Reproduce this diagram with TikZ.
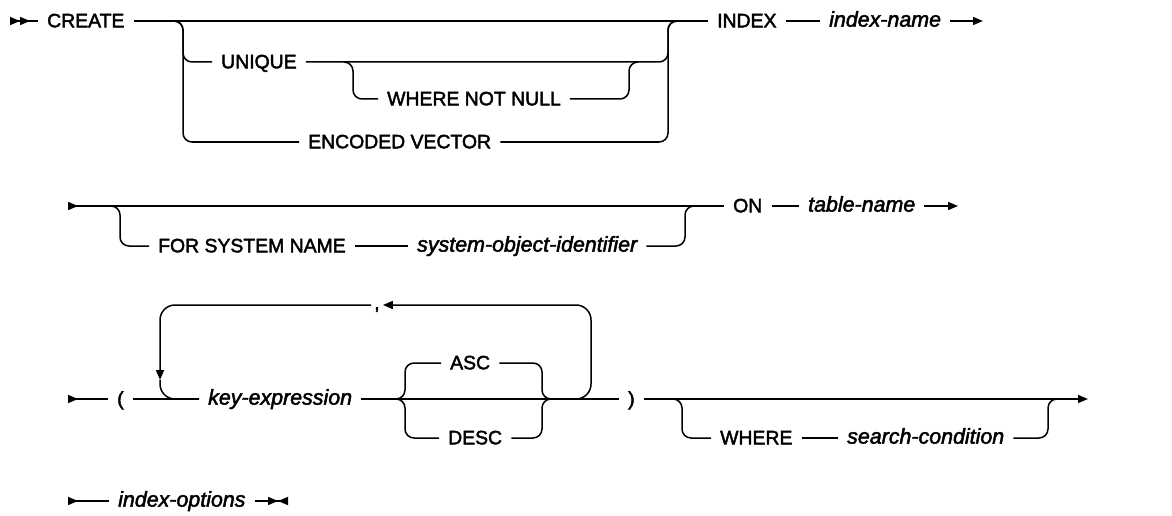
\documentclass[tikz,border=0pt]{standalone}
\usepackage{fontspec}
\usepackage{tikz}
\usetikzlibrary{arrows.meta, positioning}
\newfontfamily\railfont{Liberation Sans}[FakeBold=2.2]
\newcommand{\kwfont}{\railfont\fontsize{19.4pt}{21pt}\selectfont}
\newcommand{\varfont}{\railfont\itshape\fontsize{21.4pt}{23pt}\selectfont}
\tikzset{
	railtip/.tip={Triangle[length=10pt,width=8pt,sep=0pt]},
	railback/.tip={Triangle[length=10pt,width=8pt,sep=0pt,reversed]},
	rail/.style={line width=1.5pt, rounded corners=9pt},
	railloop/.style={rail, rounded corners=15pt},
	kw/.style={font=\kwfont, anchor=west, inner xsep=9pt, inner ysep=0pt, text height=12.6pt, text depth=0pt},
	var/.style={kw, font=\varfont, text height=11.2pt},
}

\begin{document}
\begin{tikzpicture}[x=1pt, y=-1pt]
	\useasboundingbox (0,0) rectangle (1172,516);

	\coordinate (s1) at (10,21);
	\node[kw] (create) at (38,21) {CREATE\hspace{9pt}};
	\coordinate (bA) at (174,21);
	\coordinate (colA) at (183,21);
	\node[kw] (unique) at (212,62) {UNIQUE\hspace{2pt}};
	\coordinate (bC) at (344,62);
	\coordinate (colC) at (353,62);
	\node[kw] (wnn) at (378,99) {WHERE NOT NULL\hspace{20pt}};
	\coordinate (colD) at (629,62);
	\coordinate (jD) at (638,62);
	\node[kw] (encoded) at (299,142) {ENCODED VECTOR\hspace{20pt}};
	\coordinate (colB) at (668,21);
	\coordinate (jB) at (677,21);
	\node[kw] (index) at (708,21) {INDEX\hspace{2pt}};
	\node[var] (idxname) at (820,21) {index-name\hspace{3pt}};
	\coordinate (e1) at (983,21);

	\draw[rail, {railback[]railback[]}-] (s1) -- (create.west);
	\draw[rail] (create.east) -- (index.west);
	\draw[rail] (bA) -- (colA) |- (unique.west);
	\draw[rail] (bA) -- (colA) |- (encoded.west);
	\draw[rail] (unique.east) -| (colB) -- (jB);
	\draw[rail] (encoded.east) -| (colB) -- (jB);
	\draw[rail] (bC) -- (colC) |- (wnn.west);
	\draw[rail] (wnn.east) -| (colD) -- (jD);
	\draw[rail] (index) -- (idxname);
	\draw[rail, -{railtip[]}] (idxname.east) -- (e1);

	\coordinate (s2) at (68,206);
	\coordinate (bE) at (111,206);
	\coordinate (colE) at (120,206);
	\node[kw] (sysname) at (149,246) {FOR SYSTEM NAME\hspace{20pt}};
	\node[var] (sysid) at (408,246) {system-object-identifier\hspace{6pt}};
	\coordinate (colF) at (685,206);
	\coordinate (jF) at (694,206);
	\node[kw] (on) at (724,206) {ON};
	\node[var] (tblname) at (799,206) {table-name\hspace{2pt}};
	\coordinate (e2) at (958,206);

	\draw[rail, {railback[]}-] (s2) -- (on.west);
	\draw[rail] (bE) -- (colE) |- (sysname.west);
	\draw[rail] (sysname) -- (sysid);
	\draw[rail] (sysid.east) -| (colF) -- (jF);
	\draw[rail] (on) -- (tblname);
	\draw[rail, -{railtip[]}] (tblname.east) -- (e2);

	\coordinate (s3) at (68,399);
	\node[kw] (lparen) at (108,399) {(};
	\coordinate (loopdown) at (160,380);
	\node[var] (keyexpr) at (199,399) {key-expression\hspace{5pt}};
	\node[kw, anchor=center, inner xsep=3pt] (comma) at (377,305) {\raisebox{2pt}{,}};
	\coordinate (loopcorner) at (591,305);
	\coordinate (jR) at (574,399);
	\coordinate (bL) at (396,399);
	\coordinate (colL) at (405,399);
	\node[kw] (asc) at (441,363) {ASC\hspace{2pt}};
	\node[kw] (desc) at (439,438) {DESC};
	\coordinate (colR) at (542,399);
	\coordinate (jRb) at (551,399);
	\node[kw] (rparen) at (619,399) {)};
	\coordinate (bW) at (673,399);
	\coordinate (colW) at (682,399);
	\node[kw] (where) at (711,438) {WHERE\hspace{9pt}};
	\node[var] (srch) at (838,438) {search-condition\hspace{2pt}};
	\coordinate (colS) at (1048,399);
	\coordinate (jS) at (1057,399);
	\coordinate (e3) at (1088,399);

	\draw[rail, {railback[]}-] (s3) -- (lparen.west);
	\draw[rail] (lparen) -- (keyexpr);
	\draw[rail] (keyexpr) -- (rparen);
	\draw[rail] (bL) -- (colL) |- (asc.west);
	\draw[rail] (bL) -- (colL) |- (desc.west);
	\draw[rail] (asc.east) -| (colR) -- (jRb);
	\draw[rail] (desc.east) -| (colR) -- (jRb);
	\draw[railloop, -{railtip[]}] (jR) -| (loopcorner) -- (comma.east);
	\draw[railloop, -{railtip[]}] (comma.west) -| (loopdown);
	\draw[railloop] (loopdown) |- (keyexpr.west);
	\draw[rail, -{railtip[]}] (rparen.east) -- (e3);
	\draw[rail] (bW) -- (colW) |- (where.west);
	\draw[rail] (where) -- (srch);
	\draw[rail] (srch.east) -| (colS) -- (jS);

	\coordinate (s4) at (68,501);
	\node[var] (idxopt) at (109,501) {index-options\hspace{3pt}};
	\coordinate (e4) at (288,501);
	\draw[rail, {railback[]}-] (s4) -- (idxopt.west);
	\draw[rail, -{railtip[]railback[]}] (idxopt.east) -- (e4);
\end{tikzpicture}
\end{document}
